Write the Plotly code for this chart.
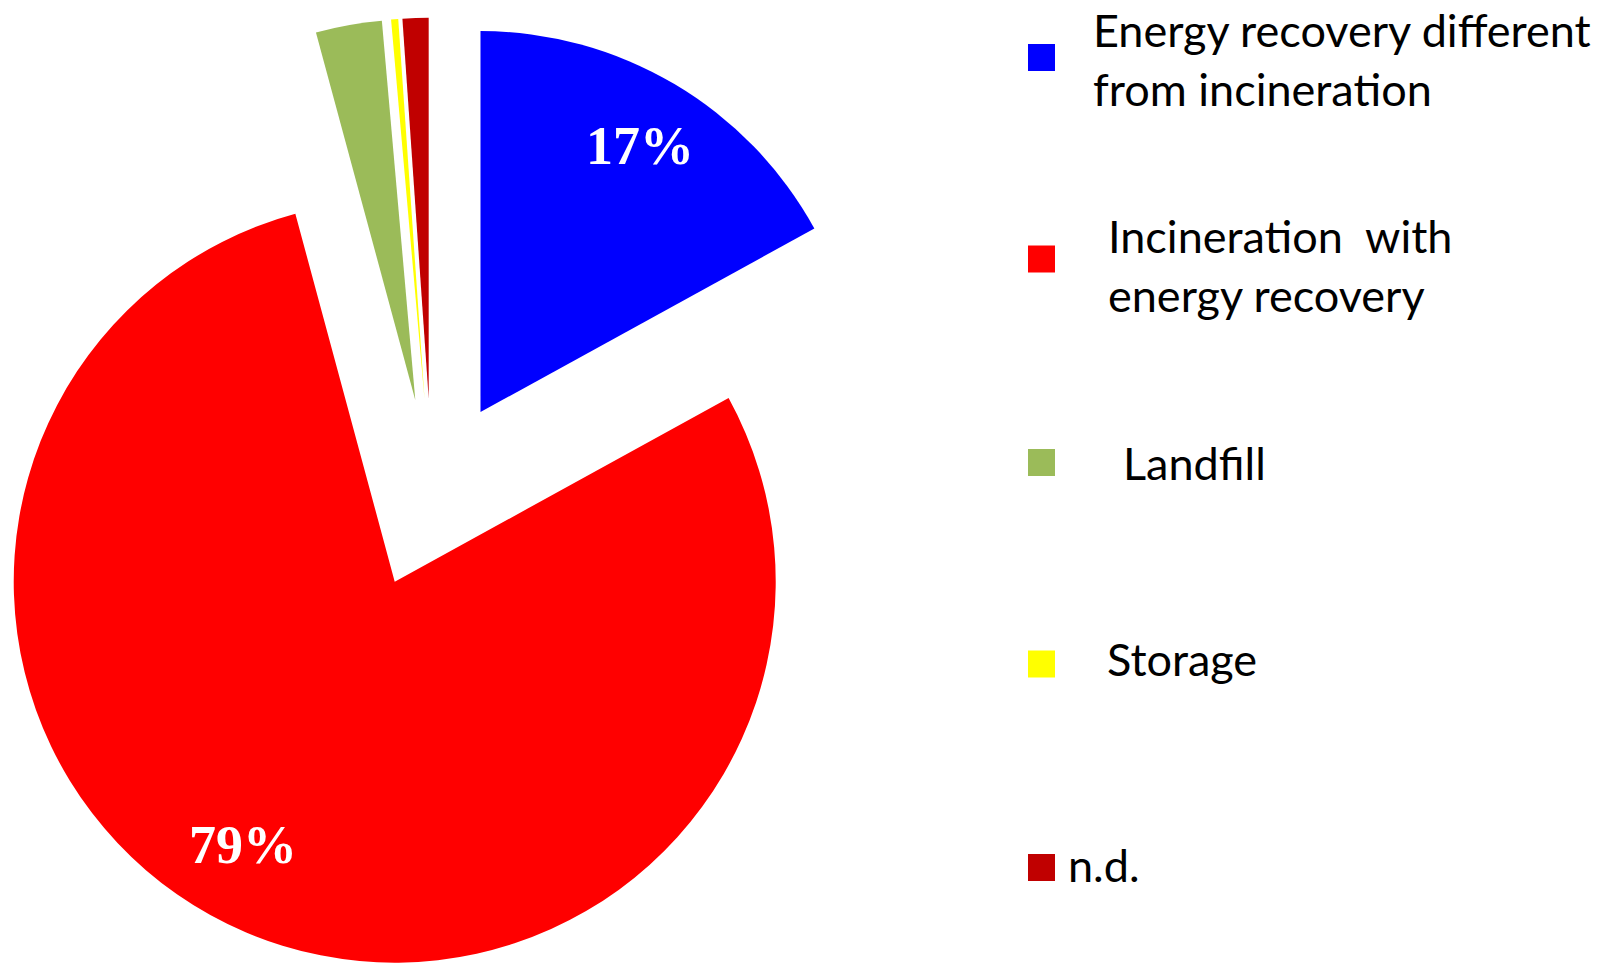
import numpy as np
import plotly.graph_objects as go

# ---- data -------------------------------------------------------------
categories = [
    "Energy recovery different from incineration",
    "Incineration  with energy recovery",
    "Landfill",
    "Storage",
    "n.d.",
]
legend_text = [
    "Energy recovery different<br>from incineration",
    "Incineration\u00a0 with<br>energy recovery",
    "Landfill",
    "Storage",
    "n.d.",
]
shares = [17.0, 78.8, 2.8, 0.3, 1.1]
colors = ["#0000FF", "#FF0000", "#9BBB59", "#FFFF00", "#C00000"]

# ---- layout constants (pixels) ---------------------------------------
W, H = 1612, 963
CX, CY = 432.0, 494.0      # centre of the un-exploded pie
R = 381.0                  # pie radius
EXPLODE = 0.25             # every slice pushed out by 25% of the radius

# label anchors for the two big slices (pixel positions)
label_px = {0: (640, 146), 1: (243, 845)}

# legend geometry
swatch_x = (1028, 1055)
swatch_y = [57.5, 259, 462.5, 664, 867.5]
swatch_h = 27
text_x = [1091, 1106, 1121, 1105, 1066]
text_y = [59, 265, 463, 659, 865]

# ---- slice angles (clockwise from 12 o'clock) -------------------------
vals = np.array(shares, dtype=float)
frac = vals / vals.sum()
start = np.concatenate([[0.0], np.cumsum(frac)[:-1]]) * 360.0
mid = start + frac * 180.0

fig = go.Figure()

# each slice gets its own pie layer, shifted outward along its bisector
for i in range(len(vals)):
    th = np.radians(mid[i])
    cx = CX + EXPLODE * R * np.sin(th)
    cy = CY - EXPLODE * R * np.cos(th)
    slice_colors = [colors[j] if j == i else "rgba(0,0,0,0)" for j in range(len(vals))]
    fig.add_trace(go.Pie(
        labels=categories,
        values=shares,
        sort=False,
        direction="clockwise",
        rotation=0,
        textinfo="none",
        hoverinfo="label+percent",
        marker=dict(colors=slice_colors, line=dict(width=0)),
        domain=dict(
            x=[(cx - R) / W, (cx + R) / W],
            y=[max(0.0, 1 - (cy + R) / H), min(1.0, 1 - (cy - R) / H)],
        ),
        showlegend=False,
    ))

annotations = []
# percentage labels
for i, (px, py) in label_px.items():
    annotations.append(dict(
        x=px / W, y=1 - py / H, xref="paper", yref="paper",
        text=f"{frac[i] * 100:.0f}%", showarrow=False,
        xanchor="center", yanchor="middle",
        font=dict(family="Liberation Serif", size=54, color="white", weight="bold"),
    ))

shapes = []
# legend
for i in range(len(categories)):
    shapes.append(dict(
        type="rect", xref="paper", yref="paper",
        x0=swatch_x[0] / W, x1=swatch_x[1] / W,
        y0=1 - (swatch_y[i] + swatch_h / 2) / H, y1=1 - (swatch_y[i] - swatch_h / 2) / H,
        fillcolor=colors[i], line=dict(width=0),
    ))
    annotations.append(dict(
        x=text_x[i] / W, y=1 - text_y[i] / H, xref="paper", yref="paper",
        text=legend_text[i], showarrow=False, align="left",
        xanchor="left", yanchor="middle",
        font=dict(family="Lato", size=45, color="black"),
    ))

fig.update_layout(
    width=W, height=H,
    margin=dict(l=0, r=0, t=0, b=0),
    paper_bgcolor="white", plot_bgcolor="white",
    annotations=annotations, shapes=shapes,
    showlegend=False,
)

fig.write_html("out.html")
